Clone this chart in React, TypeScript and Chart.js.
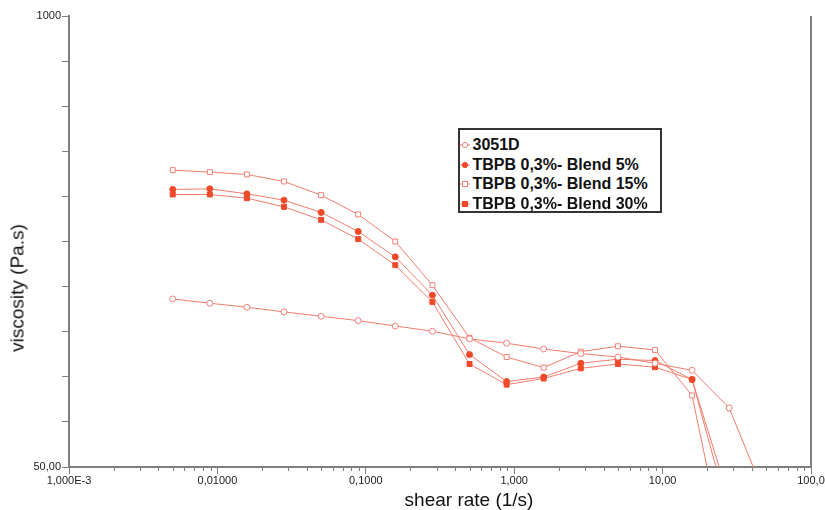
import React, { useEffect, useRef } from 'react';
import { Chart, registerables } from 'chart.js';

Chart.register(...registerables);

// ---- data ----
const shearRate = [0.005, 0.00889, 0.0158, 0.0281, 0.05, 0.0889, 0.158, 0.281, 0.5, 0.889, 1.58, 2.81, 5, 8.89, 15.8, 28.1, 50];
const visc3051D = [152.7, 148.4, 144.5, 140.1, 136.1, 132.2, 127.6, 123.2, 117.1, 113.8, 109.5, 106.2, 103.8, 99.6, 95.0, 74.0, 40.4];
const viscBlend5 = [316.0, 317.3, 306.9, 294.3, 271.3, 239.0, 201.9, 156.5, 105.5, 88.2, 90.9, 99.6, 102.3, 101.4, 89.4, 36.2];
const viscBlend15 = [359.2, 354.5, 349.1, 333.2, 304.2, 267.7, 223.7, 167.3, 117.9, 103.8, 96.8, 107.6, 111.5, 108.8, 80.4, 24.7];
const viscBlend30 = [305.6, 305.6, 298.2, 281.5, 258.2, 227.2, 191.1, 149.7, 99.1, 86.4, 90.0, 96.3, 99.1, 97.0, 89.4, 40.4];

const seriesNames = ['3051D', 'TBPB 0,3%- Blend 5%', 'TBPB 0,3%- Blend 15%', 'TBPB 0,3%- Blend 30%'];

const xDecades = [0.001, 0.01, 0.1, 1, 10, 100];
const xDecadeLabels = ['1,000E-3', '0,01000', '0,1000', '1,000', '10,00', '100,0'];
const xMinorMultipliers = [2, 3, 4, 5, 6, 7, 8, 9];

const yTickValues = [50, 67.46, 91.03, 122.82, 165.72, 223.61, 301.71, 407.09, 549.28, 741.13, 1000];
const yTickLabels = ['50,00', '', '', '', '', '', '', '', '', '', '1000'];

const xTitle = 'shear rate (1/s)';
const yTitle = 'viscosity (Pa.s)';

// ---- styles ----
const LINE = '#f27d6d';
const FILL = '#f0492a';
const OPEN = '#f08078';
const AXIS = '#7f7f7f';
const FONT = 'Arial, "Liberation Sans", sans-serif';

const isDecade = (v: number) => xDecades.some((d) => Math.abs(v / d - 1) < 1e-6);

const xTickValues: number[] = [];
xDecades.forEach((d, i) => {
  xTickValues.push(d);
  if (i < xDecades.length - 1) xMinorMultipliers.forEach((m) => xTickValues.push(d * m));
});

const toPoints = (ys: number[]) => ys.map((y, i) => ({ x: shearRate[i], y }));

const extrasPlugin = {
  id: 'extras',
  afterDraw(chart: any) {
    const { ctx, chartArea, scales } = chart;
    const xs = scales.x;
    ctx.save();
    ctx.strokeStyle = AXIS;
    ctx.lineWidth = 1;
    xs.ticks.forEach((t: any) => {
      if (isDecade(t.value)) return;
      const px = Math.round(xs.getPixelForValue(t.value)) + 0.5;
      ctx.beginPath();
      ctx.moveTo(px, chartArea.bottom);
      ctx.lineTo(px, chartArea.bottom + 4);
      ctx.stroke();
    });
    ctx.lineWidth = 2;
    ctx.beginPath();
    ctx.moveTo(chartArea.right, chartArea.top);
    ctx.lineTo(chartArea.right, chartArea.bottom);
    ctx.stroke();
    ctx.restore();
  },
};

function Marker({ kind }: { kind: number }) {
  const c = kind === 1 || kind === 3 ? FILL : OPEN;
  const filled = kind === 1 || kind === 3;
  return (
    <svg width="12" height="12" style={{ position: 'absolute', left: -1, top: 4 }}>
      <line x1="1" y1="6" x2="11" y2="6" stroke={LINE} strokeWidth="1" />
      {kind === 0 || kind === 1 ? (
        <circle cx="6" cy="6" r="2.6" fill={filled ? c : '#fff'} stroke={c} strokeWidth="1" />
      ) : (
        <rect x="3.5" y="3.5" width="5" height="5" fill={filled ? c : '#fff'} stroke={c} strokeWidth="1" />
      )}
    </svg>
  );
}

export default function App() {
  const ref = useRef<HTMLCanvasElement>(null);

  useEffect(() => {
    if (!ref.current) return;
    const clip = { left: 10, top: 10, right: 10, bottom: 0 };
    const chart = new Chart(ref.current, {
      type: 'line',
      data: {
        datasets: [
          {
            label: seriesNames[0],
            data: toPoints(visc3051D),
            borderColor: LINE,
            borderWidth: 1,
            pointStyle: 'circle',
            pointRadius: 3,
            pointBackgroundColor: '#ffffff',
            pointBorderColor: OPEN,
            pointBorderWidth: 1,
            clip,
          },
          {
            label: seriesNames[1],
            data: toPoints(viscBlend5),
            borderColor: LINE,
            borderWidth: 1,
            pointStyle: 'circle',
            pointRadius: 3,
            pointBackgroundColor: FILL,
            pointBorderColor: FILL,
            pointBorderWidth: 1,
            clip,
          },
          {
            label: seriesNames[2],
            data: toPoints(viscBlend15),
            borderColor: LINE,
            borderWidth: 1,
            pointStyle: 'rect',
            pointRadius: 3.5,
            pointBackgroundColor: '#ffffff',
            pointBorderColor: OPEN,
            pointBorderWidth: 1,
            clip,
          },
          {
            label: seriesNames[3],
            data: toPoints(viscBlend30),
            borderColor: LINE,
            borderWidth: 1,
            pointStyle: 'rect',
            pointRadius: 3.5,
            pointBackgroundColor: FILL,
            pointBorderColor: FILL,
            pointBorderWidth: 1,
            clip,
          },
        ],
      },
      options: {
        responsive: false,
        animation: false,
        layout: { padding: { top: 16, right: 14, left: 0, bottom: 0 } },
        plugins: { legend: { display: false }, tooltip: { enabled: false } },
        elements: { line: { tension: 0 } },
        scales: {
          x: {
            type: 'logarithmic',
            min: 0.001,
            max: 100,
            afterBuildTicks: (s: any) => {
              s.ticks = xTickValues.map((v) => ({ value: v, major: isDecade(v) }));
            },
            afterFit: (s: any) => {
              s.height = 43;
              s.paddingLeft = 0;
              s.paddingRight = 0;
            },
            border: { display: true, color: AXIS, width: 2 },
            grid: {
              drawOnChartArea: false,
              drawTicks: true,
              tickLength: 7,
              color: AXIS,
              tickColor: (ctx: any) => (ctx.tick && isDecade(ctx.tick.value) ? AXIS : 'rgba(0,0,0,0)'),
              tickWidth: 1,
            },
            ticks: {
              autoSkip: false,
              maxRotation: 0,
              padding: 0,
              color: '#222',
              font: { family: FONT, size: 11 },
              callback: (v: any) => {
                const i = xDecades.findIndex((d) => Math.abs(Number(v) / d - 1) < 1e-6);
                return i >= 0 ? xDecadeLabels[i] : '';
              },
            },
          },
          y: {
            type: 'logarithmic',
            min: 50,
            max: 1000,
            afterBuildTicks: (s: any) => {
              s.ticks = yTickValues.map((v) => ({ value: v }));
            },
            afterFit: (s: any) => {
              s.width = 69;
              s.paddingTop = 0;
              s.paddingBottom = 0;
            },
            border: { display: true, color: AXIS, width: 2 },
            grid: {
              drawOnChartArea: false,
              drawTicks: true,
              tickLength: 7,
              color: AXIS,
              tickColor: AXIS,
              tickWidth: 1,
            },
            ticks: {
              autoSkip: false,
              padding: 1,
              color: '#222',
              font: { family: FONT, size: 11 },
              callback: (_v: any, i: number) => yTickLabels[i] ?? '',
            },
          },
        },
      },
      plugins: [extrasPlugin],
    } as any);
    return () => chart.destroy();
  }, []);

  const rowTops = [5, 24.5, 44, 63.5];

  return (
    <div style={{ position: 'fixed', left: 0, top: 0, width: 825, height: 510, background: '#fff', overflow: 'hidden' }}>
      <canvas ref={ref} width={825} height={510} style={{ position: 'absolute', left: 0, top: 0, width: 825, height: 510 }} />
      <div
        style={{
          position: 'absolute',
          left: 469,
          top: 490,
          transform: 'translateX(-50%)',
          whiteSpace: 'nowrap',
          font: `19px ${FONT}`,
          lineHeight: '19px',
          color: '#111',
        }}
      >
        {xTitle}
      </div>
      <div
        style={{
          position: 'absolute',
          left: 16.5,
          top: 287.5,
          transform: 'translate(-50%, -50%) rotate(-90deg)',
          whiteSpace: 'nowrap',
          font: `19px ${FONT}`,
          lineHeight: '19px',
          color: '#111',
        }}
      >
        {yTitle}
      </div>
      <div
        style={{
          position: 'absolute',
          left: 458,
          top: 128,
          width: 204,
          height: 85,
          border: '2px solid #333',
          boxSizing: 'border-box',
          background: '#fff',
        }}
      >
        {seriesNames.map((name, i) => (
          <div key={name} style={{ position: 'absolute', left: 0, top: rowTops[i], height: 20, width: 198 }}>
            <Marker kind={i} />
            <span
              style={{
                position: 'absolute',
                left: 12.5,
                top: 0,
                whiteSpace: 'nowrap',
                font: `bold 16px ${FONT}`,
                lineHeight: '20px',
                color: '#111',
              }}
            >
              {name}
            </span>
          </div>
        ))}
      </div>
    </div>
  );
}
